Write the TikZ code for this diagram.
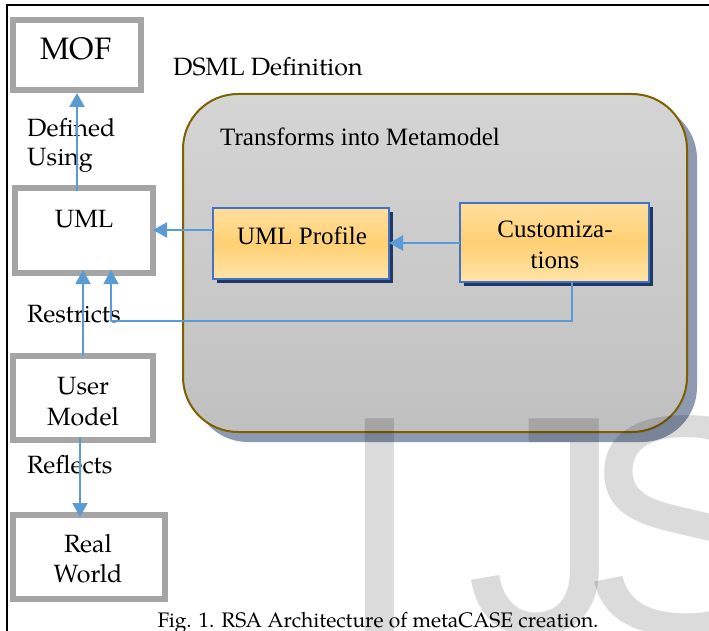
\documentclass[tikz,border=0pt]{standalone}
\usepackage{fontspec}
\setmainfont{Liberation Serif}
\newfontfamily\palfont{TeX Gyre Pagella}
\newfontfamily\wmfont{Liberation Sans}
\usetikzlibrary{arrows.meta,shadows}
\definecolor{boxgray}{HTML}{A5A5A5}
\definecolor{arrowblue}{HTML}{5B9BD5}
\definecolor{brownline}{HTML}{7F6000}
\definecolor{bigtop}{HTML}{D5D5D5}
\definecolor{bigbot}{HTML}{C0C0C0}
\definecolor{bigshadow}{HTML}{8D9AB2}
\definecolor{orgtop}{HTML}{FFDF9E}
\definecolor{orgmid}{HTML}{FFD073}
\definecolor{orgbot}{HTML}{FFE3A8}
\definecolor{orgborder}{HTML}{4472C4}
\definecolor{orgshadow}{HTML}{203864}
\tikzset{
  graybox/.style={draw=boxgray, line width=6pt, fill=white, inner sep=0pt, outer sep=0pt},
  bigbox/.style={draw=brownline, line width=2pt, rounded corners=55pt, top color=bigtop, bottom color=bigbot,
    inner sep=0pt, outer sep=0pt,
    drop shadow={shadow xshift=10pt, shadow yshift=-10pt, fill=bigshadow, opacity=1}},
  orgbox/.style={draw=orgborder, line width=2pt, top color=orgtop, bottom color=orgbot, middle color=orgmid,
    inner sep=0pt, outer sep=0pt,
    drop shadow={shadow xshift=4pt, shadow yshift=-4pt, fill=orgshadow, opacity=1}},
  paltext/.style={font=\palfont\fontsize{25}{30}\selectfont, inner sep=0pt, anchor=base},
  paltextl/.style={font=\palfont\fontsize{25}{30}\selectfont, inner sep=0pt, anchor=base west},
  timestext/.style={font=\fontsize{25}{30}\selectfont, inner sep=0pt, anchor=base},
  conn/.style={draw=arrowblue, line width=2pt, -{Triangle[length=14pt,width=15pt]}},
  thinconn/.style={draw=arrowblue, line width=1.2pt},
  wmark/.style={font=\wmfont\fontsize{312}{312}\selectfont, text=black, text opacity=0.14, inner sep=0pt, anchor=base west},
}
\begin{document}
\begin{tikzpicture}[x=1pt,y=-1pt]
\useasboundingbox (0,0) rectangle (709,631);
\begin{scope}
\clip (0,0) rectangle (709,631);
\fill[white] (0,0) rectangle (709,631);
% frame
\draw[black, line width=2.2pt] (6,5) -- (709,5);
\draw[black, line width=2.2pt] (7,4) -- (7,631);

% big rounded box
\node[bigbox, minimum width=504pt, minimum height=338pt] (dsml) at (435,263) {};
\node[timestext, anchor=base west] (tfm) at (220,146) {Transforms into Metamodel};
\node[paltextl] (dsmltxt) at (173,76) {DSML Definition};

% gray boxes
\node[graybox, minimum width=128pt, minimum height=70pt] (mof) at (77,55) {};
\node[paltext, font=\palfont\fontsize{31}{36}\selectfont] (moft) at (76,60) {MOF};
\node[graybox, minimum width=138pt, minimum height=85pt] (uml) at (84,230.5) {};
\node[paltext] (umlt) at (84,227) {UML};
\node[graybox, minimum width=140pt, minimum height=84pt] (user) at (83,398) {};
\node[paltext] (usert1) at (83,394) {User};
\node[paltext] (usert2) at (83,425) {Model};
\node[graybox, minimum width=152pt, minimum height=84pt] (real) at (89,557) {};
\node[paltext] (realt1) at (88,552) {Real};
\node[paltext] (realt2) at (88,582) {World};

% orange boxes
\node[orgbox, minimum width=176pt, minimum height=71pt] (prof) at (301,243.5) {};
\node[timestext] (proft) at (302,244) {UML Profile};
\node[orgbox, minimum width=189pt, minimum height=79pt] (cust) at (554.5,242.5) {};
\node[timestext] (custt1) at (555,237) {Customiza-};
\node[timestext] (custt2) at (555,268) {tions};

% side labels
\node[paltextl] (lbl1) at (27,137) {Defined};
\node[paltextl] (lbl2) at (27,166) {Using};
\node[paltextl] (lbl3) at (27,322) {Restricts};
\node[paltextl] (lbl4) at (27,473) {Reflects};

% connectors
\draw[conn, shorten <=-3pt, shorten >=3pt] (uml.north -| 77,0) -- (mof.south);
\draw[conn] (prof.west |- 0,230) -- (uml.east |- 0,230);
\draw[conn] (cust.west |- 0,243) -- (prof.east |- 0,243);
\draw[conn] (user.north -| 83,0) -- ([yshift=3pt]uml.south -| 83,0);
\draw[conn, shorten <=-3pt, shorten >=-2pt] (user.south -| 80,0) -- (real.north -| 80,0);
\coordinate (cbend) at (572,321);
\coordinate (lbend) at (111,321);
\draw[thinconn] (cust.south -| cbend) -- (cbend) -- (lbend);
\draw[conn, line width=1.5pt] (lbend) -- ([yshift=3pt]uml.south -| lbend);

% watermark
\node[wmark] (wmI) at (336,633) {I};
\node[wmark] (wmJ) at (466,633) {J};
\node[wmark] (wmS) at (580,633) {S};

% caption
\node[paltext, font=\palfont\fontsize{21}{25}\selectfont] (cap) at (378,627) {Fig. 1. RSA Architecture of metaCASE creation.};
\end{scope}
\end{tikzpicture}
\end{document}
